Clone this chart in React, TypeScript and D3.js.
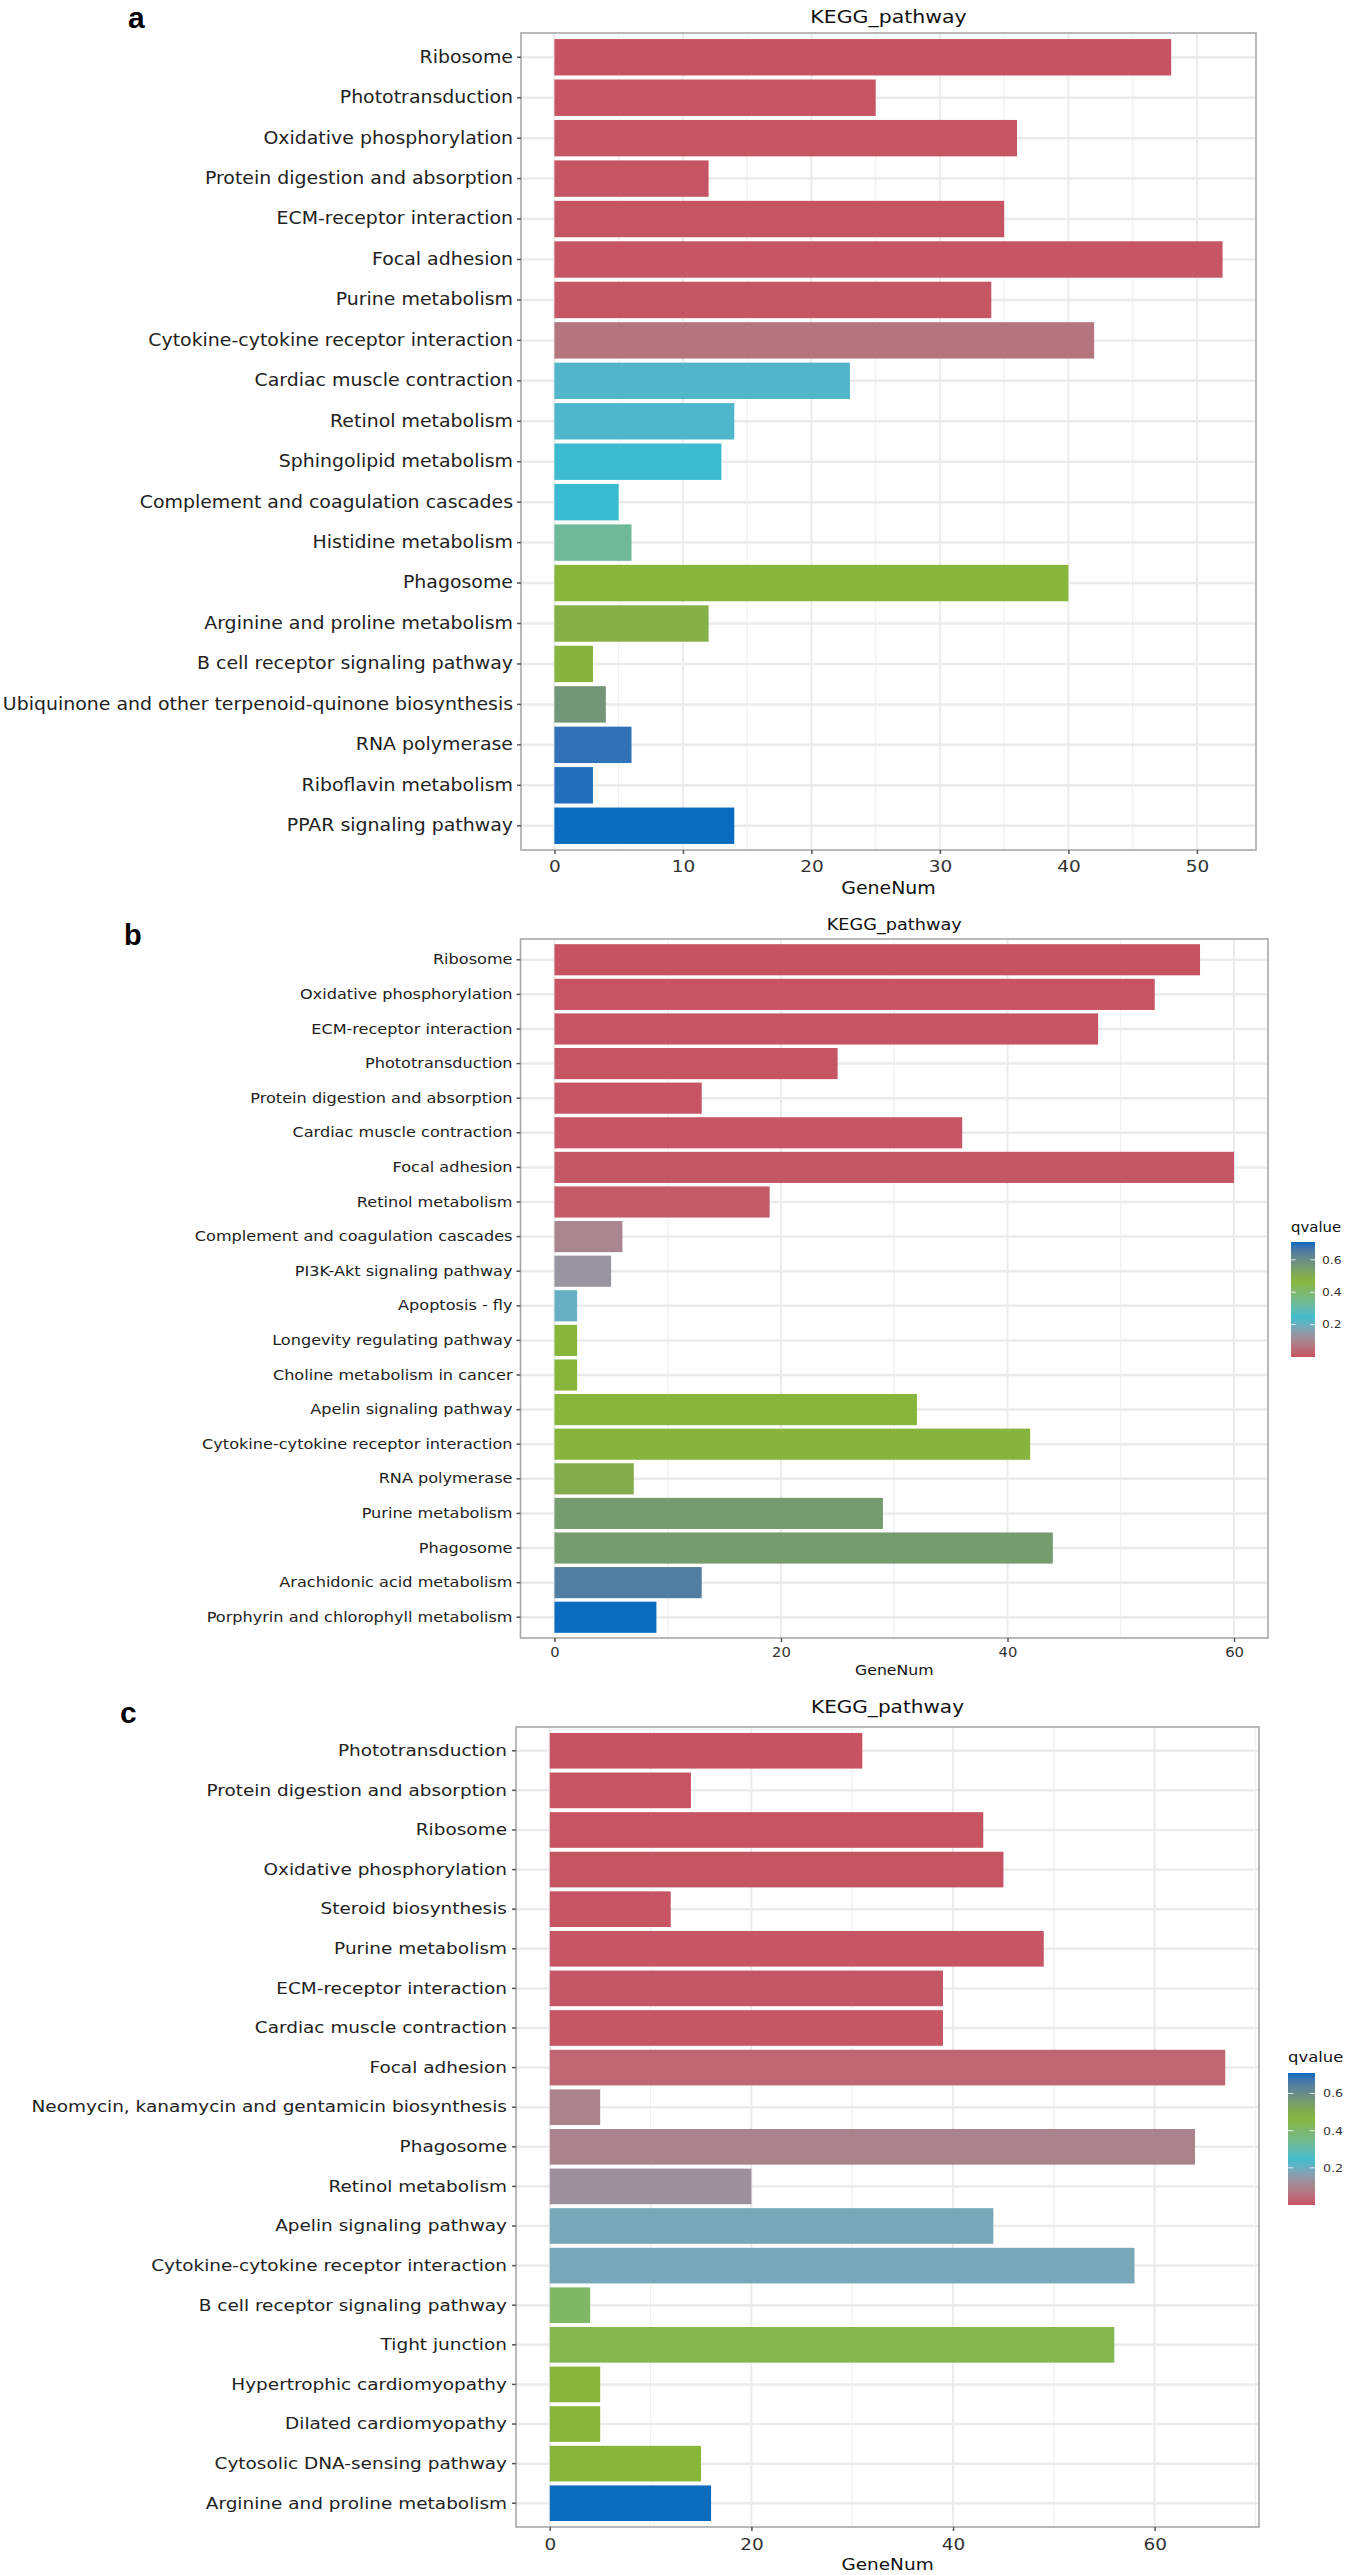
import { useRef, useEffect } from "react";
import * as d3 from "d3";

const pathwaysA = [
  "Ribosome", "Phototransduction", "Oxidative phosphorylation", "Protein digestion and absorption",
  "ECM-receptor interaction", "Focal adhesion", "Purine metabolism", "Cytokine-cytokine receptor interaction",
  "Cardiac muscle contraction", "Retinol metabolism", "Sphingolipid metabolism", "Complement and coagulation cascades",
  "Histidine metabolism", "Phagosome", "Arginine and proline metabolism", "B cell receptor signaling pathway",
  "Ubiquinone and other terpenoid-quinone biosynthesis", "RNA polymerase", "Riboflavin metabolism", "PPAR signaling pathway",
];
const geneNumA = [48, 25, 36, 12, 35, 52, 34, 42, 23, 14, 13, 5, 6, 40, 12, 3, 4, 6, 3, 14];
const qvalueA = [0.001, 0.002, 0.003, 0.004, 0.005, 0.006, 0.008, 0.065, 0.222, 0.224, 0.234, 0.236, 0.33, 0.47, 0.49, 0.48, 0.57, 0.69, 0.70, 0.71];

const pathwaysB = [
  "Ribosome", "Oxidative phosphorylation", "ECM-receptor interaction", "Phototransduction",
  "Protein digestion and absorption", "Cardiac muscle contraction", "Focal adhesion", "Retinol metabolism",
  "Complement and coagulation cascades", "PI3K-Akt signaling pathway", "Apoptosis - fly", "Longevity regulating pathway",
  "Choline metabolism in cancer", "Apelin signaling pathway", "Cytokine-cytokine receptor interaction", "RNA polymerase",
  "Purine metabolism", "Phagosome", "Arachidonic acid metabolism", "Porphyrin and chlorophyll metabolism",
];
const geneNumB = [57, 53, 48, 25, 13, 36, 60, 19, 6, 5, 2, 2, 2, 32, 42, 7, 29, 44, 13, 9];
const qvalueB = [0.001, 0.002, 0.003, 0.004, 0.005, 0.006, 0.007, 0.015, 0.1, 0.135, 0.205, 0.47, 0.47, 0.47, 0.48, 0.5, 0.555, 0.555, 0.65, 0.71];

const pathwaysC = [
  "Phototransduction", "Protein digestion and absorption", "Ribosome", "Oxidative phosphorylation",
  "Steroid biosynthesis", "Purine metabolism", "ECM-receptor interaction", "Cardiac muscle contraction",
  "Focal adhesion", "Neomycin, kanamycin and gentamicin biosynthesis", "Phagosome", "Retinol metabolism",
  "Apelin signaling pathway", "Cytokine-cytokine receptor interaction", "B cell receptor signaling pathway", "Tight junction",
  "Hypertrophic cardiomyopathy", "Dilated cardiomyopathy", "Cytosolic DNA-sensing pathway", "Arginine and proline metabolism",
];
const geneNumC = [31, 14, 43, 45, 12, 49, 39, 39, 67, 5, 64, 20, 44, 58, 4, 56, 5, 5, 15, 16];
const qvalueC = [0.001, 0.002, 0.003, 0.004, 0.005, 0.006, 0.007, 0.008, 0.035, 0.095, 0.095, 0.125, 0.185, 0.185, 0.41, 0.44, 0.47, 0.47, 0.47, 0.71];

const ticksA = [0, 10, 20, 30, 40, 50];
const ticksB = [0, 20, 40, 60];
const ticksC = [0, 20, 40, 60];
const legendTicks = [0.2, 0.4, 0.6];
const qColors = ["#c75262", "#38bcd2", "#88b637", "#0a6bbf"];
const qMax = 0.71;

const FONT = "'DejaVu Sans', sans-serif";
const SX = 1.12; // the figure is slightly stretched horizontally

interface Legend { x: number; w: number; top: number; bottom: number; titleY: number; titleSize: number; labelX: number; labelSize: number; }
interface PanelCfg {
  id: string; letter: string; letterX: number; letterY: number; letterSize: number;
  left: number; right: number; top: number; bottom: number;
  titleY: number; titleSize: number; labelSize: number; labelGap: number;
  tickY: number; tickSize: number; axisTitleY: number; axisTitleSize: number;
  legend?: Legend;
}

const qColor = d3.scaleLinear<string>()
  .domain(qColors.map((_, i) => (i * qMax) / (qColors.length - 1)))
  .range(qColors)
  .interpolate(d3.interpolateLab)
  .clamp(true);

function drawPanel(svg: d3.Selection<SVGSVGElement, unknown, null, undefined>, names: string[], values: number[], qs: number[], ticks: number[], cfg: PanelCfg) {
  const g = svg.append("g");
  const vmax = d3.max(values) ?? 1;
  const x = d3.scaleLinear().domain([-0.05 * vmax, 1.05 * vmax]).range([cfg.left, cfg.right]);
  const y = d3.scaleBand<string>().domain(names).range([cfg.top, cfg.bottom]).paddingInner(0.1).paddingOuter(0.15);
  const rows = names.map((n, i) => ({ n, v: values[i], q: qs[i] }));
  const step = ticks[1] - ticks[0];
  const minor = ticks.map(t => t + step / 2).filter(t => t < x.domain()[1]);

  g.append("rect").attr("x", cfg.left).attr("y", cfg.top).attr("width", cfg.right - cfg.left)
    .attr("height", cfg.bottom - cfg.top).attr("fill", "#fff");
  g.selectAll(".minor").data(minor).join("line")
    .attr("x1", d => x(d)).attr("x2", d => x(d)).attr("y1", cfg.top).attr("y2", cfg.bottom)
    .attr("stroke", "#f0f0f0").attr("stroke-width", 1.2);
  g.selectAll(".vmajor").data(ticks).join("line")
    .attr("x1", d => x(d)).attr("x2", d => x(d)).attr("y1", cfg.top).attr("y2", cfg.bottom)
    .attr("stroke", "#ebebeb").attr("stroke-width", 2);
  g.selectAll(".hmajor").data(names).join("line")
    .attr("x1", cfg.left).attr("x2", cfg.right)
    .attr("y1", d => y(d)! + y.bandwidth() / 2).attr("y2", d => y(d)! + y.bandwidth() / 2)
    .attr("stroke", "#ebebeb").attr("stroke-width", 2.5);

  g.selectAll(".bar").data(rows).join("rect")
    .attr("x", x(0)).attr("y", d => y(d.n)!).attr("width", d => x(d.v) - x(0))
    .attr("height", y.bandwidth()).attr("fill", d => qColor(d.q));

  g.append("rect").attr("x", cfg.left).attr("y", cfg.top).attr("width", cfg.right - cfg.left)
    .attr("height", cfg.bottom - cfg.top).attr("fill", "none").attr("stroke", "#a8a8a8").attr("stroke-width", 1.6);

  const ya = g.append("g").attr("transform", `translate(${cfg.left},0)`)
    .call(d3.axisLeft(y).tickSize(4).tickPadding(cfg.labelGap));
  ya.select(".domain").remove();
  ya.selectAll(".tick line").attr("stroke", "#555").attr("stroke-width", 1.5);
  ya.selectAll(".tick text").attr("font-size", cfg.labelSize).attr("font-family", FONT).attr("fill", "#222")
    .attr("transform", `scale(${SX},1)`).attr("x", -(4 + cfg.labelGap) / SX);

  const xa = g.append("g").attr("transform", `translate(0,${cfg.bottom})`)
    .call(d3.axisBottom(x).tickValues(ticks).tickSize(4));
  xa.select(".domain").remove();
  xa.selectAll(".tick line").attr("stroke", "#555").attr("stroke-width", 1.5);
  xa.selectAll(".tick text").attr("font-size", cfg.tickSize).attr("font-family", FONT).attr("fill", "#333")
    .attr("y", cfg.tickY - cfg.bottom).attr("dy", 0).attr("transform", `scale(${SX},1)`);

  const cx = (cfg.left + cfg.right) / 2;
  g.append("text").attr("transform", `translate(${cx},${cfg.titleY}) scale(${SX},1)`)
    .attr("text-anchor", "middle").attr("font-family", FONT).attr("font-size", cfg.titleSize).attr("fill", "#111").text("KEGG_pathway");
  g.append("text").attr("transform", `translate(${cx},${cfg.axisTitleY}) scale(${SX},1)`)
    .attr("text-anchor", "middle").attr("font-family", FONT).attr("font-size", cfg.axisTitleSize).attr("fill", "#111").text("GeneNum");
  g.append("text").attr("x", cfg.letterX).attr("y", cfg.letterY)
    .attr("font-family", "'Liberation Sans', Arial, sans-serif").attr("font-weight", "bold")
    .attr("font-size", cfg.letterSize).attr("fill", "#000").text(cfg.letter);

  const lg = cfg.legend;
  if (lg) {
    const ly = d3.scaleLinear().domain([0, qMax]).range([lg.bottom, lg.top]);
    const grad = svg.append("defs").append("linearGradient").attr("id", `grad-${cfg.id}`)
      .attr("x1", 0).attr("y1", 1).attr("x2", 0).attr("y2", 0);
    grad.selectAll("stop").data(d3.range(0, 1.0001, 0.05)).join("stop")
      .attr("offset", d => d).attr("stop-color", d => qColor(d * qMax));
    g.append("text").attr("transform", `translate(${lg.x},${lg.titleY}) scale(${SX},1)`)
      .attr("font-family", FONT).attr("font-size", lg.titleSize).attr("fill", "#111").text("qvalue");
    g.append("rect").attr("x", lg.x).attr("y", lg.top).attr("width", lg.w).attr("height", lg.bottom - lg.top)
      .attr("fill", `url(#grad-${cfg.id})`);
    g.selectAll(".ltl").data(legendTicks).join("line")
      .attr("x1", lg.x).attr("x2", lg.x + lg.w * 0.2).attr("y1", d => ly(d)).attr("y2", d => ly(d))
      .attr("stroke", "#fff").attr("stroke-width", 1).attr("opacity", 0.8);
    g.selectAll(".ltr").data(legendTicks).join("line")
      .attr("x1", lg.x + lg.w * 0.8).attr("x2", lg.x + lg.w).attr("y1", d => ly(d)).attr("y2", d => ly(d))
      .attr("stroke", "#fff").attr("stroke-width", 1).attr("opacity", 0.8);
    g.selectAll(".ltx").data(legendTicks).join("text")
      .attr("transform", d => `translate(${lg.labelX},${ly(d)}) scale(${SX},1)`).attr("dy", "0.35em")
      .attr("font-family", FONT).attr("font-size", lg.labelSize).attr("fill", "#333").text(d => d.toFixed(1));
  }
}

const cfgA: PanelCfg = {
  id: "a", letter: "a", letterX: 128, letterY: 28, letterSize: 30,
  left: 521, right: 1256, top: 33, bottom: 850,
  titleY: 23, titleSize: 18.3, labelSize: 16.9, labelGap: 4,
  tickY: 872, tickSize: 16.5, axisTitleY: 894, axisTitleSize: 16.9,
};
const cfgB: PanelCfg = {
  id: "b", letter: "b", letterX: 124, letterY: 945, letterSize: 29,
  left: 520.5, right: 1268, top: 939, bottom: 1638,
  titleY: 930, titleSize: 15.8, labelSize: 14.4, labelGap: 4,
  tickY: 1657, tickSize: 13.2, axisTitleY: 1675, axisTitleSize: 14,
  legend: { x: 1291, w: 24, top: 1242, bottom: 1357, titleY: 1232, titleSize: 13.3, labelX: 1322, labelSize: 11 },
};
const cfgC: PanelCfg = {
  id: "c", letter: "c", letterX: 120, letterY: 1723, letterSize: 30,
  left: 516, right: 1259, top: 1727, bottom: 2527,
  titleY: 1713, titleSize: 17.9, labelSize: 16.5, labelGap: 5,
  tickY: 2550, tickSize: 16.5, axisTitleY: 2570, axisTitleSize: 16.5,
  legend: { x: 1288, w: 27, top: 2073, bottom: 2205, titleY: 2062, titleSize: 14.7, labelX: 1323, labelSize: 11.3 },
};

export default function App() {
  const ref = useRef<SVGSVGElement>(null);
  useEffect(() => {
    if (!ref.current) return;
    const svg = d3.select(ref.current);
    svg.selectAll("*").remove();
    drawPanel(svg, pathwaysA, geneNumA, qvalueA, ticksA, cfgA);
    drawPanel(svg, pathwaysB, geneNumB, qvalueB, ticksB, cfgB);
    drawPanel(svg, pathwaysC, geneNumC, qvalueC, ticksC, cfgC);
  }, []);

  return (
    <div style={{ position: "absolute", left: 0, top: 0 }}>
      <svg ref={ref} width={1347} height={2575} style={{ display: "block", background: "#fff" }} />
    </div>
  );
}
